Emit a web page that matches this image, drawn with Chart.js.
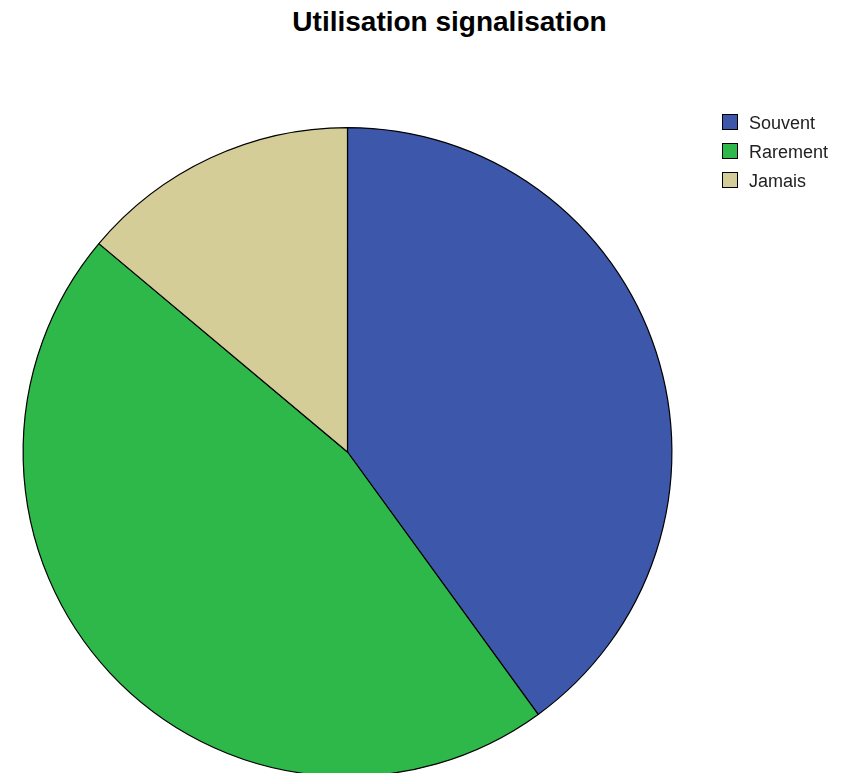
<!DOCTYPE html>
<html>
<head>
<meta charset="utf-8">
<script src="https://cdn.jsdelivr.net/npm/chart.js@4"></script>
<style>
    html, body { margin: 0; padding: 0; background: #fff; overflow: hidden; }
    #wrap { position: relative; width: 850px; height: 773px; overflow: hidden; }
    #chartBox { position: absolute; left: 0; top: 0; width: 850px; height: 800px; }
    #title {
        position: absolute; left: 0; width: 899px; top: 6px; text-align: center;
        font: bold 28px "Liberation Sans", Arial, sans-serif; color: #000;
    }
    #legend { position: absolute; left: 722px; top: 113px; font: 18px/20px "Liberation Sans", Arial, sans-serif; color: #222; }
    #legend div { height: 29px; display: flex; align-items: flex-start; }
    #legend span.box { display: inline-block; width: 14px; height: 14px; border: 1px solid #000; margin-top: 1px; margin-right: 11px; }
</style>
</head>
<body>
<div id="wrap">
    <div id="title">Utilisation signalisation</div>
    <div id="chartBox"><canvas id="pieChart" width="850" height="800"></canvas></div>
    <div id="legend"></div>
</div>
<script>
const categories = ['Souvent', 'Rarement', 'Jamais'];
const percents = [40.0, 46.1, 13.9];
const colors = ['#3d58ab', '#2eb84a', '#d4cd98'];

// legend on the right, built from the same arrays
const legendEl = document.getElementById('legend');
categories.forEach((name, i) => {
    const row = document.createElement('div');
    row.innerHTML = '<span class="box" style="background:' + colors[i] + '"></span><span>' + name + '</span>';
    legendEl.appendChild(row);
});

const ctx = document.getElementById('pieChart').getContext('2d');
const pieChart = new Chart(ctx, {
    type: 'pie',
    data: {
        labels: categories,
        datasets: [{
            data: percents,
            backgroundColor: colors,
            borderColor: '#000',
            borderWidth: 1.2
        }]
    },
    options: {
        responsive: false,
        animation: false,
        layout: {
            padding: { left: 21, right: 176, top: 127, bottom: 23 }
        },
        plugins: {
            legend: { display: false },
            tooltip: { enabled: false }
        }
    }
});
</script>
</body>
</html>
